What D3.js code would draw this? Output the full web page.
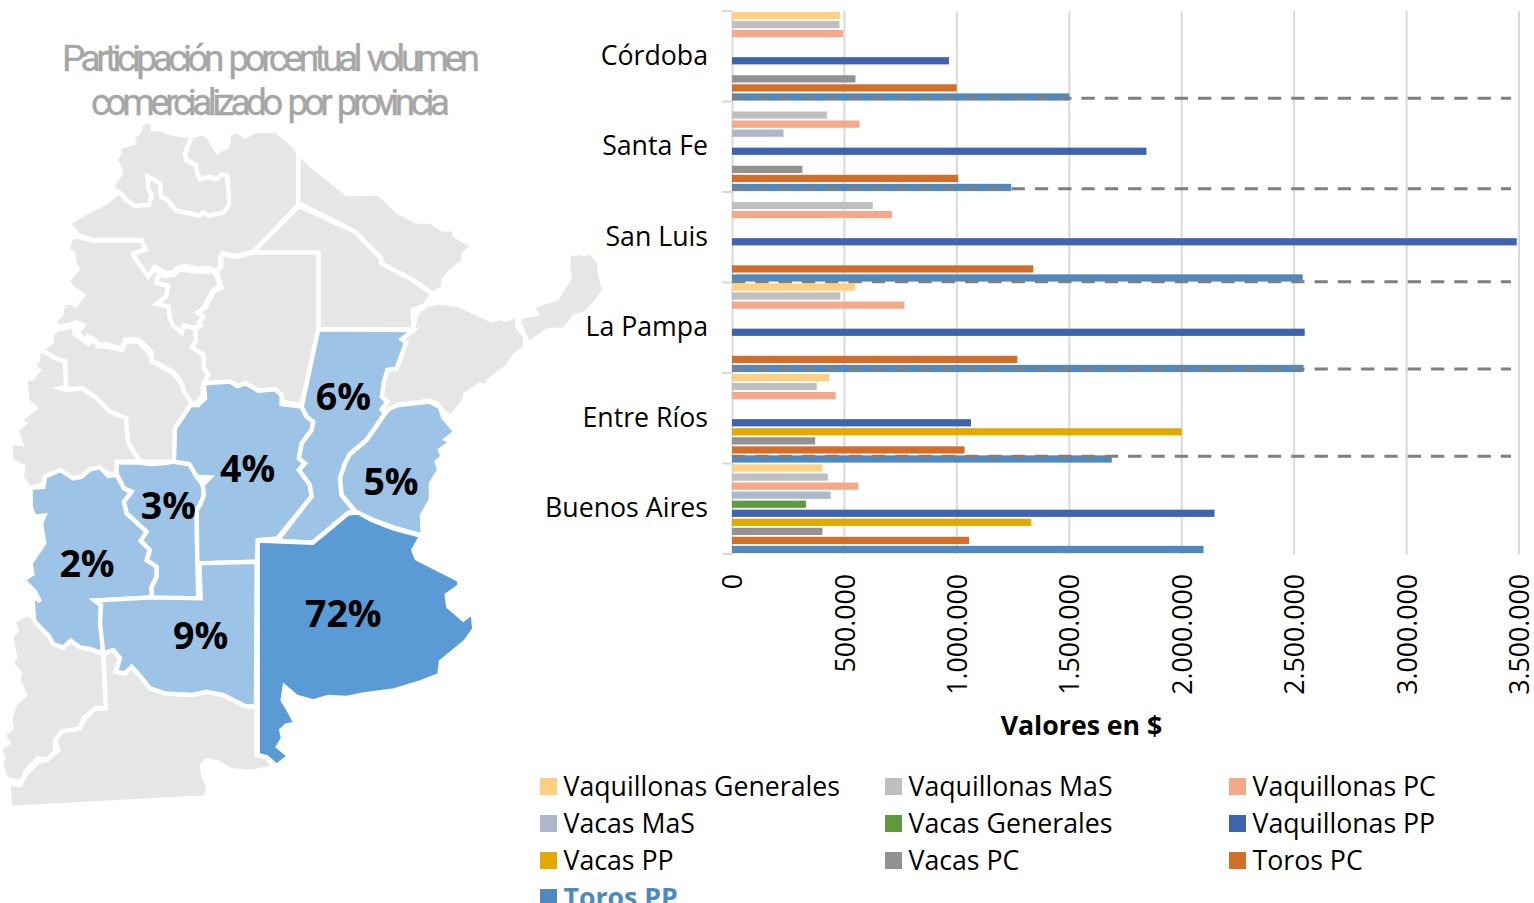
<!DOCTYPE html>
<html><head><meta charset="utf-8">
<style>html,body{margin:0;padding:0;background:#fff;overflow:hidden}svg{display:block}text{font-family:"Open Sans",sans-serif}</style>
<script src="https://cdn.jsdelivr.net/npm/d3@7"></script></head><body>
<script>
const categories=["Córdoba","Santa Fe","San Luis","La Pampa","Entre Ríos","Buenos Aires"];
const seriesNames=["Vaquillonas Generales","Vaquillonas MaS","Vaquillonas PC","Vacas MaS","Vacas Generales","Vaquillonas PP","Vacas PP","Vacas PC","Toros PC","Toros PP"];
const vaquillonasGenerales=[480000,null,null,548000,432000,402000];
const vaquillonasMaS=[478000,423000,626000,482000,377000,426000];
const vaquillonasPC=[494000,567000,712000,767000,461000,562000];
const vacasMaS=[null,229000,null,null,null,439000];
const vacasGenerales=[null,null,null,null,null,329000];
const vaquillonasPP=[965000,1843000,3490000,2547000,1063000,2146000];
const vacasPP=[null,null,null,null,2000000,1331000];
const vacasPC=[549000,313000,null,null,370000,402000];
const torosPC=[999000,1006000,1340000,1269000,1034000,1054000];
const torosPP=[1500000,1242000,2538000,2542000,1689000,2097000];
const seriesValues=[vaquillonasGenerales,vaquillonasMaS,vaquillonasPC,vacasMaS,vacasGenerales,vaquillonasPP,vacasPP,vacasPC,torosPC,torosPP];
const seriesColors=["#ffd081","#bfbfbf","#f4a98a","#adb9ca","#609a3d","#3f64ad","#e2a900","#929292","#d26e2a","#5089bf"];
const xTicks=[0,500000,1000000,1500000,2000000,2500000,3000000,3500000];
const separatorOffsets=[3.2,3.3,0.8,4,7.2];
const titleLines=["Participación porcentual volumen","comercializado por provincia"];

// Provinces, in map units
const provinceRings={
 jujuy:[[340,212],[340,190],[363,160],[357,138],[345,120],[360,96],[353,83],[402,68],[398,55],[420,32],[424,10],[455,2],[460,28],[482,28],[505,38],[545,45],[575,48],[560,90],[555,100],[560,120],[588,135],[590,155],[600,178],[632,170],[648,178],[665,163],[682,167],[688,253],[672,278],[628,288],[610,278],[597,287],[528,272],[502,240],[484,232],[480,190],[443,170],[445,205],[455,225],[448,255],[407,258],[378,240],[360,218]],
 salta:[[575,48],[610,40],[628,55],[652,96],[682,78],[687,55],[680,43],[715,33],[735,50],[755,37],[775,32],[830,33],[890,85],[895,100],[895,255],[760,395],[708,408],[668,400],[660,415],[662,440],[650,452],[630,445],[590,445],[555,437],[530,445],[520,458],[495,458],[465,440],[445,470],[403,412],[402,400],[437,388],[428,370],[425,360],[280,360],[235,345],[204,310],[262,275],[297,260],[327,240],[347,222],[360,218],[378,240],[407,258],[448,255],[455,225],[445,205],[443,170],[480,190],[484,232],[502,240],[528,272],[597,287],[610,278],[628,288],[672,278],[688,253],[682,167],[665,163],[648,178],[632,170],[600,178],[590,155],[588,135],[560,120],[555,100],[560,90]],
 formosa:[[895,100],[938,140],[1042,223],[1132,220],[1158,240],[1193,275],[1250,305],[1292,305],[1327,328],[1362,328],[1364,347],[1420,378],[1392,400],[1390,424],[1356,450],[1331,478],[1328,503],[1300,522],[1235,478],[1143,430],[1143,413],[1120,392],[1065,335],[905,255],[895,255]],
 chaco:[[897,258],[1065,335],[1120,392],[1143,413],[1143,430],[1235,478],[1297,522],[1275,555],[1238,570],[1240,628],[955,628],[955,398],[757,398]],
 santiago:[[757,398],[955,398],[955,628],[905,855],[845,845],[845,825],[825,808],[775,812],[737,790],[713,798],[690,785],[630,788],[612,800],[610,775],[615,760],[610,745],[612,705],[575,682],[585,665],[583,630],[603,615],[595,607],[608,590],[597,575],[618,560],[640,515],[665,503],[655,470],[650,455],[663,440],[665,410],[670,402],[708,412]],
 tucuman:[[470,460],[495,468],[520,465],[540,448],[590,455],[635,455],[648,462],[660,497],[640,510],[610,565],[593,577],[610,590],[597,607],[600,617],[580,625],[552,617],[543,635],[520,622],[510,612],[505,590],[503,565],[482,550],[450,560],[495,530],[503,498],[470,488],[470,472]],
 catamarca:[[224,348],[280,362],[425,362],[435,388],[400,400],[403,412],[445,470],[465,445],[480,463],[470,478],[470,490],[505,497],[498,530],[468,552],[505,560],[510,595],[520,618],[545,638],[553,617],[585,625],[588,665],[575,682],[610,705],[612,745],[625,762],[608,800],[608,825],[590,850],[570,852],[552,815],[540,780],[520,755],[455,722],[453,695],[430,670],[415,658],[375,658],[365,685],[318,672],[295,675],[283,658],[265,650],[265,665],[230,640],[250,615],[225,608],[205,615],[175,620],[160,605],[183,585],[190,550],[215,548],[226,555],[250,525],[220,507],[202,483],[233,447],[222,425],[220,400],[202,388],[212,358]],
 laRioja:[[125,690],[155,665],[155,640],[175,628],[225,618],[222,640],[265,672],[280,660],[295,680],[320,680],[367,690],[378,665],[415,665],[435,685],[450,702],[455,725],[520,760],[547,795],[552,815],[575,850],[525,925],[525,1025],[420,1025],[385,970],[380,930],[378,895],[330,875],[285,830],[245,805],[200,810],[198,800],[195,725],[165,715]],
 sanJuan:[[125,690],[165,715],[195,725],[198,800],[180,805],[200,810],[245,805],[285,830],[330,875],[378,895],[380,930],[385,970],[420,1025],[350,1025],[350,1062],[325,1062],[300,1045],[265,1050],[245,1070],[220,1075],[180,1055],[135,1070],[130,1095],[86,1104],[65,1070],[70,1040],[34,1022],[30,968],[64,972],[49,930],[74,910],[59,900],[106,865],[82,842],[76,775],[96,775],[116,752],[99,735],[114,722],[114,697]],
 neuquen:[[85,1480],[115,1510],[130,1515],[165,1565],[190,1580],[212,1562],[240,1580],[270,1585],[300,1600],[310,1600],[318,1765],[285,1765],[250,1795],[240,1825],[185,1835],[165,1860],[165,1895],[140,1920],[115,1915],[75,1955],[75,1965],[62,1985],[20,1978],[10,1955],[3,1930],[10,1915],[-1,1885],[25,1870],[10,1845],[35,1825],[30,1800],[45,1750],[75,1725],[55,1680],[60,1660],[35,1630],[45,1610],[33,1550],[50,1530],[40,1505]],
 rioNegro:[[310,1600],[340,1590],[360,1615],[348,1655],[375,1660],[395,1640],[420,1668],[450,1705],[495,1720],[575,1725],[620,1715],[670,1725],[735,1758],[770,1760],[770,1905],[800,1908],[818,1938],[808,1946],[745,1956],[695,1951],[650,1926],[618,1921],[606,1937],[611,1970],[626,2000],[618,2032],[30,2064],[25,1990],[62,1995],[75,1965],[115,1925],[140,1920],[175,1890],[165,1860],[185,1835],[240,1825],[255,1795],[285,1765],[318,1765]],
 corrientes:[[1248,580],[1280,555],[1320,547],[1377,555],[1476,602],[1500,593],[1518,599],[1552,585],[1552,620],[1575,650],[1576,682],[1545,705],[1522,740],[1464,783],[1460,798],[1438,794],[1395,825],[1395,840],[1348,894],[1333,875],[1310,865],[1310,850],[1288,842],[1195,855],[1165,868],[1155,880],[1145,868],[1162,845],[1145,830],[1152,785],[1162,750],[1190,745],[1218,668],[1205,658],[1240,630]],
 misiones:[[1595,560],[1650,542],[1670,535],[1710,472],[1704,445],[1706,402],[1745,398],[1752,403],[1770,394],[1797,427],[1802,470],[1813,510],[1786,550],[1755,580],[1724,590],[1693,628],[1642,631],[1585,672],[1568,630],[1556,610],[1562,590],[1610,582]],
 mendoza:[[135,1070],[180,1050],[220,1075],[245,1070],[270,1048],[300,1042],[325,1068],[350,1065],[372,1105],[395,1115],[372,1145],[380,1180],[440,1235],[422,1262],[450,1290],[440,1320],[470,1340],[470,1370],[455,1400],[455,1432],[285,1442],[303,1455],[300,1510],[310,1530],[308,1600],[270,1587],[240,1582],[212,1562],[190,1583],[160,1572],[145,1546],[120,1522],[102,1500],[97,1425],[120,1445],[104,1415],[70,1380],[97,1362],[92,1330],[112,1300],[133,1270],[123,1212],[133,1187],[103,1190],[92,1160],[92,1104],[130,1100]],
 sanLuis:[[350,1028],[420,1028],[450,1032],[490,1030],[522,1025],[568,1032],[590,1070],[608,1095],[612,1125],[600,1155],[590,1170],[592,1328],[595,1440],[455,1440],[455,1400],[470,1370],[470,1340],[440,1320],[450,1290],[422,1262],[440,1235],[380,1180],[372,1145],[395,1115],[372,1105],[350,1062]],
 cordoba:[[572,855],[595,855],[615,835],[612,790],[690,785],[712,798],[737,790],[775,812],[825,808],[845,825],[845,852],[905,860],[920,890],[940,905],[935,930],[905,970],[897,1015],[915,1030],[897,1050],[930,1095],[935,1130],[918,1150],[832,1255],[775,1260],[770,1325],[592,1330],[590,1170],[600,1155],[612,1125],[608,1095],[630,1072],[590,1070],[568,1032],[522,1025],[525,925]],
 santaFe:[[955,628],[1240,630],[1205,658],[1218,668],[1190,745],[1162,750],[1152,785],[1145,830],[1162,845],[1145,868],[1155,880],[1100,960],[1050,1002],[1035,1030],[1020,1075],[1025,1125],[1062,1172],[1045,1178],[938,1268],[832,1262],[918,1150],[935,1130],[930,1095],[897,1050],[915,1030],[897,1015],[905,970],[935,930],[940,905],[920,890],[905,860]],
 entreRios:[[1150,888],[1165,868],[1195,855],[1290,845],[1320,862],[1330,892],[1366,935],[1338,958],[1356,965],[1320,990],[1328,1010],[1310,1025],[1318,1050],[1293,1090],[1293,1140],[1266,1185],[1268,1247],[1180,1222],[1120,1200],[1070,1178],[1025,1125],[1020,1075],[1035,1030],[1050,1002],[1100,960]],
 buenosAires:[[773,1262],[938,1268],[1045,1180],[1075,1178],[1115,1200],[1180,1225],[1264,1248],[1240,1290],[1250,1315],[1290,1336],[1378,1380],[1378,1398],[1340,1425],[1345,1460],[1390,1498],[1418,1476],[1423,1527],[1396,1565],[1323,1625],[1318,1665],[1264,1686],[1182,1711],[1087,1724],[1040,1734],[985,1731],[940,1744],[890,1731],[854,1700],[848,1740],[863,1765],[888,1812],[860,1816],[844,1830],[849,1855],[834,1880],[868,1908],[830,1938],[800,1912],[773,1905]],
 laPampa:[[598,1330],[770,1325],[768,1760],[735,1758],[670,1725],[620,1715],[575,1725],[495,1720],[450,1705],[420,1668],[395,1640],[375,1660],[348,1655],[360,1615],[340,1590],[310,1600],[300,1510],[303,1455],[285,1442],[455,1432],[602,1435]]
};
const provinceColors={mendoza:"#9dc3e6",sanLuis:"#9dc3e6",cordoba:"#9dc3e6",santaFe:"#9dc3e6",entreRios:"#9dc3e6",laPampa:"#9dc3e6",buenosAires:"#5b9bd5"};
const shareLabels=["2%","3%","4%","5%","6%","9%","72%"];
const shareAnchors=[[261,1372],[505,1197],[743,1085],[1173,1125],[1030,870],[602,1587],[1030,1520]];

const W=1534,H=903;
const svg=d3.select("body").append("svg").attr("width",W).attr("height",H);

// ---------- map
const projection=d3.geoIdentity().scale(1/3).translate([0,120]);
const geo=d3.geoPath(projection);
const features=Object.keys(provinceRings).map(k=>({type:"Feature",id:k,geometry:{type:"Polygon",coordinates:[[...provinceRings[k],provinceRings[k][0]]]}}));
svg.append("g").selectAll("path").data(features).join("path")
 .attr("d",geo).attr("fill",d=>provinceColors[d.id]||"#e6e6e6")
 .attr("stroke","#fff").attr("stroke-width",4.4).attr("stroke-linejoin","miter");
svg.append("g").selectAll("text").data(shareLabels).join("text")
 .attr("x",(d,i)=>projection(shareAnchors[i])[0]).attr("y",(d,i)=>projection(shareAnchors[i])[1])
 .attr("text-anchor","middle").attr("font-size",37.5).attr("font-weight",700).attr("fill","#000").text(d=>d);

// ---------- title
svg.append("g").selectAll("text").data(titleLines).join("text")
 .attr("x",(d,i)=>[62,91][i]).attr("y",(d,i)=>[71,115][i])
 .attr("textLength",(d,i)=>[418,359][i]).attr("lengthAdjust","spacing")
 .attr("font-size",37).attr("font-weight",400).attr("fill","#a6a6a6")
 .attr("stroke","#a6a6a6").attr("stroke-width",0.3)
 .style("font-family","'Liberation Sans Narrow','Roboto',sans-serif").style("word-spacing","4px").text(d=>d);

// ---------- bars
const x=d3.scaleLinear().domain([0,3500000]).range([732,1519]);
const y=d3.scaleBand().domain(categories).range([11,554]);
const inner=d3.scaleBand().domain(seriesNames).range([0,y.bandwidth()]).paddingInner(0.2).paddingOuter(0.1);

const grid=svg.append("g");
grid.selectAll("line").data(xTicks.slice(1)).join("line")
 .attr("x1",d=>x(d)).attr("x2",d=>x(d)).attr("y1",11).attr("y2",554)
 .attr("stroke","#d9d9d9").attr("stroke-width",2);

const fmt=d=>d3.format(",")(d).replace(/,/g,".");
const axisB=svg.append("g").attr("transform","translate(0,554)")
 .call(d3.axisBottom(x).tickValues(xTicks).tickFormat(fmt).tickSize(0));
axisB.select(".domain").remove();
axisB.selectAll("text").attr("font-size",26.7).attr("fill","#000").style("font-family","'Open Sans'")
 .attr("transform","rotate(-90)").attr("text-anchor","end").attr("x",-20).attr("y",0).attr("dy","0.36em");

const axisL=svg.append("g").attr("transform","translate(732,0)")
 .call(d3.axisLeft(y).tickSize(0).tickPadding(24));
axisL.select(".domain").attr("stroke","#d9d9d9").attr("stroke-width",2);
axisL.selectAll("text").attr("font-size",26.7).attr("fill","#000").style("font-family","'Open Sans'").attr("dy","0.31em");
const edges=[...categories.map(c=>y(c)),554];
axisL.selectAll(".edge").data(edges).join("line").attr("class","edge")
 .attr("x1",-10).attr("x2",0).attr("y1",d=>d).attr("y2",d=>d)
 .attr("stroke","#d9d9d9").attr("stroke-width",2);

const rows=seriesNames.flatMap((s,si)=>categories.map((c,ci)=>({s,c,v:seriesValues[si][ci],color:seriesColors[si]}))).filter(d=>d.v!=null);
svg.append("g").selectAll("rect").data(rows).join("rect")
 .attr("x",x(0)).attr("y",d=>y(d.c)+inner(d.s)).attr("width",d=>x(d.v)-x(0)).attr("height",inner.bandwidth())
 .attr("fill",d=>d.color);

svg.append("g").selectAll("line").data(separatorOffsets).join("line")
 .attr("x1",x(0)).attr("x2",1511)
 .attr("y1",(d,i)=>y(categories[i])+y.bandwidth()-d).attr("y2",(d,i)=>y(categories[i])+y.bandwidth()-d)
 .attr("stroke","#7f7f7f").attr("stroke-width",3).attr("stroke-dasharray","13.3 10");

svg.append("text").attr("x",1081.5).attr("y",735).attr("text-anchor","middle")
 .attr("font-size",26.7).attr("font-weight",700).attr("fill","#000").text("Valores en $");

// ---------- legend
const legendCols=d3.scaleOrdinal().domain([0,1,2]).range([540,885,1229]);
const legendRows=d3.scalePoint().domain([0,1,2,3]).range([778,889]);
const leg=svg.append("g").selectAll("g").data(seriesNames).join("g")
 .attr("transform",(d,i)=>`translate(${legendCols(i%3)},${legendRows(Math.floor(i/3))})`);
leg.append("rect").attr("width",17).attr("height",17).attr("fill",(d,i)=>seriesColors[i]);
leg.append("text").attr("x",23.5).attr("y",17.6).attr("font-size",26.7)
 .attr("font-weight",d=>d==="Toros PP"?700:400).attr("fill",d=>d==="Toros PP"?"#4e8ac0":"#000").text(d=>d);
</script></body></html>
